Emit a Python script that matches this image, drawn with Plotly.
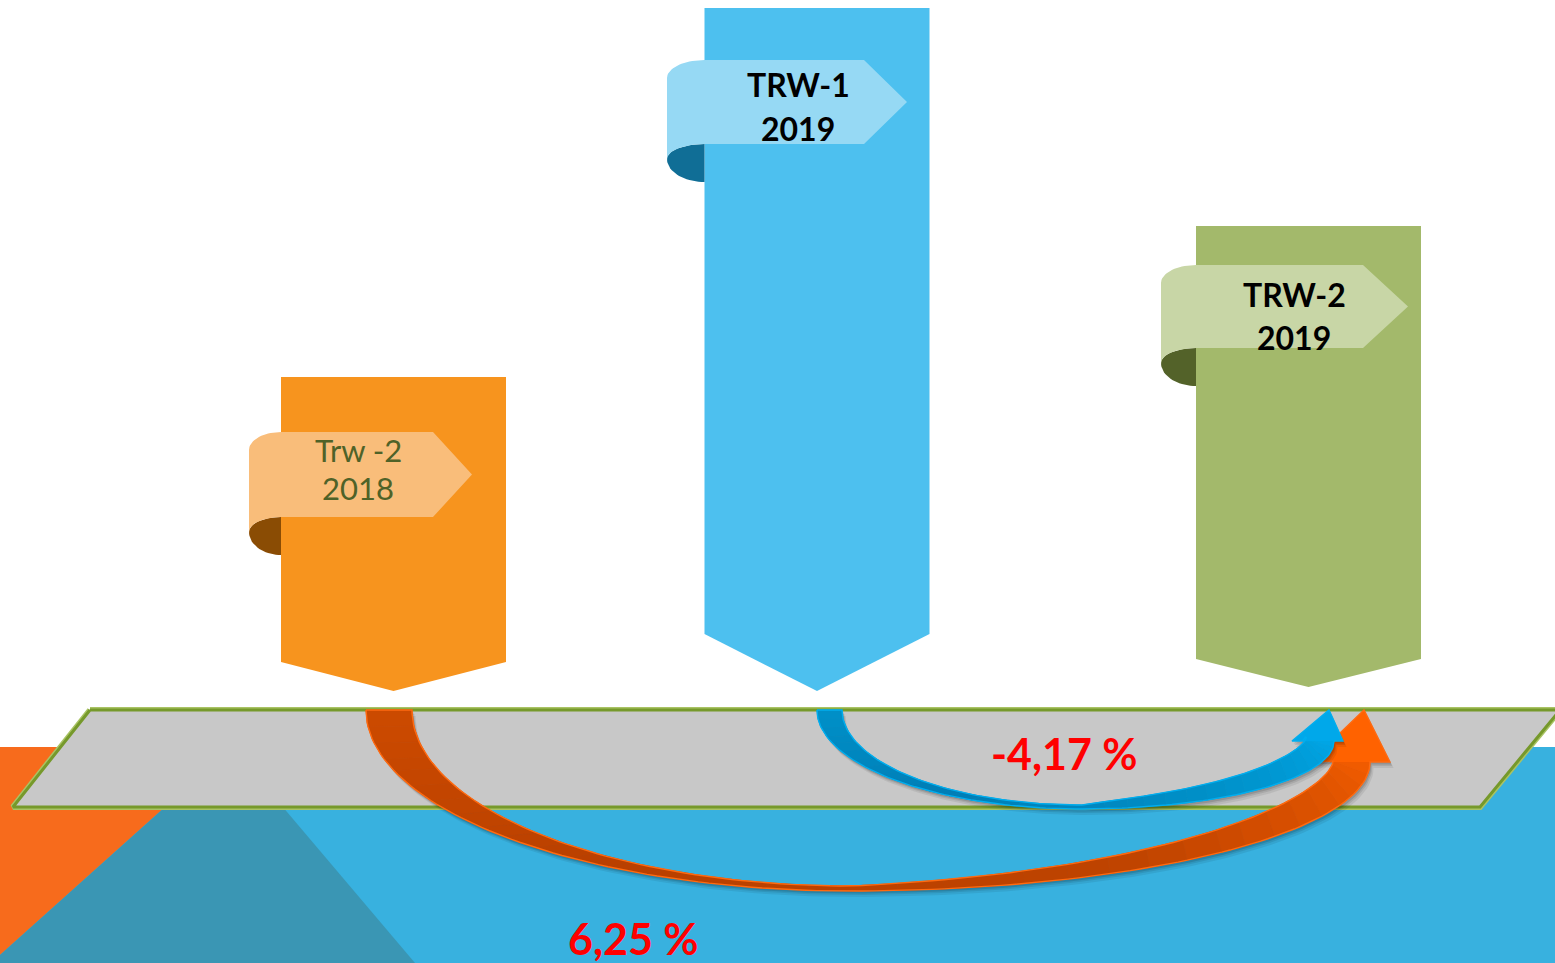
import numpy as np
import plotly.graph_objects as go

# ---------------- data ----------------
categories = ["Trw -2", "TRW-1", "TRW-2"]
years = ["2018", "2019", "2019"]
bar_values = [314, 683, 465]          # bar heights above the platform line (chart units)
changes = [6.25, -4.17]               # % change  (Trw-2 2018 -> TRW-2 2019), (TRW-1 2019 -> TRW-2 2019)

# ---------------- geometry / style ----------------
W, H = 1555, 963
BASE = 691
bar_x = [393.5, 817, 1308.5]
BAR_W = 225
notch = [29, 57, 28]
lift = [0, 0, 4]
bar_colors = ["#F7941E", "#4DC0EF", "#A3B96B"]

rib_top = [432, 60, 265]
rib_bot = [517, 144, 348]
rib_left = [249, 667, 1161]
rib_right = [433, 864, 1363]
rib_tip = [472, 907, 1408]
rib_light = ["#F9BD7A", "#96D9F4", "#C8D6A6"]
rib_dark = ["#8A4C04", "#106E96", "#536229"]

label_x = [358, 798, 1294]
label_y1 = [450, 84, 294]
label_y2 = [488, 128, 337]
label_color = ["#4F6228", "#000000", "#000000"]
label_bold = [False, True, True]

arrows = [
    dict(x0_out=366, x0_in=412, y_top=710, x_bot=850, y_bot_out=891, y_bot_in=886,
         x_end_out=1370, y_end=762, w_end=40, p=1.0,
         head_l=(1310, 762), head_r=(1390, 762), tip=(1364, 710),
         stops=["#CC4A00", "#B94000", "#BE4300", "#F25C00"], head="#FF6200",
         outline="#FF6A10"),
    dict(x0_out=817, x0_in=842, y_top=710, x_bot=1082, y_bot_out=809, y_bot_in=805,
         x_end_out=1334, y_end=741, w_end=31, p=0.75,
         head_l=(1292, 741), head_r=(1343, 741), tip=(1329, 710),
         stops=["#0090C8", "#007DB5", "#0090C8", "#00A6E6"], head="#00A8EA",
         outline="#00AEEF"),
]
pct_pos = [(633, 938), (1064, 753)]

fig = go.Figure()


def poly(xs, ys, fill, line=None, lw=0):
    fig.add_trace(go.Scatter(
        x=list(xs) + [xs[0]], y=list(ys) + [ys[0]], mode="lines", fill="toself",
        fillcolor=fill, line=dict(color=line or fill, width=lw),
        hoverinfo="skip", showlegend=False))


# ---------------- background ----------------
poly([0, W, W, 0], [747, 747, H, H], "#38B1DF")
poly([0, 232, 0], [747, 747, 955], "#F76B1C")
poly([232, 415, 0, 0], [747, H, H, 955], "#3A96B4")

# platform
plat_x = [90, W + 5, 1480, 13]
plat_y = [710, 710, 807, 807]
poly(plat_x, plat_y, "#C8C8C8", "#A9C364", 6)
poly(plat_x, plat_y, "#C8C8C8", "#76992B", 3)


# ---------------- curved arrows ----------------
def hex2rgb(h):
    h = h.lstrip("#")
    return np.array([int(h[i:i + 2], 16) for i in (0, 2, 4)], float)


def grad(stops, t):
    n = len(stops) - 1
    k = min(int(t * n), n - 1)
    f = t * n - k
    c = hex2rgb(stops[k]) * (1 - f) + hex2rgb(stops[k + 1]) * f
    return "rgb(%d,%d,%d)" % tuple(c.round())


def arrow_geom(a, n=70):
    cx, cy = a["x_bot"], a["y_top"]
    rxo, ryo = cx - a["x0_out"], a["y_bot_out"] - cy
    rxi, ryi = cx - a["x0_in"], a["y_bot_in"] - cy
    ph = np.linspace(0, np.pi / 2, n)
    lo = np.c_[cx - rxo * np.cos(ph), cy + ryo * np.sin(ph)]
    li = np.c_[cx - rxi * np.cos(ph), cy + ryi * np.sin(ph)]
    cy2 = a["y_end"]
    rx2, ry2 = a["x_end_out"] - cx, a["y_bot_out"] - cy2
    ph2 = np.linspace(0, np.pi / 2, n)[1:]
    ro = np.c_[cx + rx2 * np.sin(ph2), cy2 + ry2 * np.cos(ph2)]
    nx, ny = np.sin(ph2) / rx2, np.cos(ph2) / ry2
    nn = np.hypot(nx, ny)
    nx, ny = nx / nn, ny / nn
    wb = a["y_bot_out"] - a["y_bot_in"]
    w = wb + (a["w_end"] - wb) * (ph2 / (np.pi / 2)) ** a["p"]
    ri = np.c_[ro[:, 0] - w * nx, ro[:, 1] - w * ny]
    return np.vstack([lo, ro]), np.vstack([li, ri])


for a in arrows:
    outer, inner = arrow_geom(a)
    full_x = list(outer[:, 0]) + [a["head_r"][0], a["tip"][0], a["head_l"][0]] + list(inner[::-1, 0])
    full_y = list(outer[:, 1]) + [a["head_r"][1], a["tip"][1], a["head_l"][1]] + list(inner[::-1, 1])
    # soft shadow
    for off, al in [(6, 0.07), (4, 0.09), (2.5, 0.12)]:
        poly([x + off * 0.6 for x in full_x], [y + off for y in full_y], "rgba(0,0,0,%.2f)" % al)
    # gradient body
    m = len(outer)
    nseg = 36
    idx = np.linspace(0, m - 1, nseg + 1).round().astype(int)
    for s in range(nseg):
        i0, i1 = idx[s], idx[s + 1]
        xs = list(outer[i0:i1 + 1, 0]) + list(inner[i0:i1 + 1, 0][::-1])
        ys = list(outer[i0:i1 + 1, 1]) + list(inner[i0:i1 + 1, 1][::-1])
        c = grad(a["stops"], (s + 0.5) / nseg)
        poly(xs, ys, c, c, 0.8)
    # head
    poly([outer[-1, 0], a["head_r"][0], a["tip"][0], a["head_l"][0], inner[-1, 0]],
         [outer[-1, 1], a["head_r"][1], a["tip"][1], a["head_l"][1], inner[-1, 1]], a["head"])
    # outline
    fig.add_trace(go.Scatter(x=full_x + [full_x[0]], y=full_y + [full_y[0]], mode="lines",
                             line=dict(color=a["outline"], width=1.4),
                             hoverinfo="skip", showlegend=False))

# ---------------- bars ----------------
for i in range(len(categories)):
    l, r = bar_x[i] - BAR_W / 2, bar_x[i] + BAR_W / 2
    top = BASE - bar_values[i]
    tip_y = BASE - lift[i]
    side_y = tip_y - notch[i]
    poly([l, r, r, bar_x[i], l], [top, top, side_y, tip_y, side_y], bar_colors[i])

# ---------------- ribbons ----------------
for i in range(len(categories)):
    bl = bar_x[i] - BAR_W / 2
    t, b, rl = rib_top[i], rib_bot[i], rib_left[i]
    rx = bl - rl
    # dark curl
    th_u = np.linspace(np.pi / 2, np.pi, 20)
    th_d = np.linspace(np.pi, 3 * np.pi / 2, 20)
    cxu, cyu = bl, b + 15
    ux = list(cxu + rx * np.cos(th_u)); uy = list(cyu - 15 * np.sin(th_u))
    dx = list(cxu + rx * np.cos(th_d)); dy = list(cyu - 23 * np.sin(th_d))
    poly(ux + dx, uy + dy, rib_dark[i])
    # light ribbon
    th_t = np.linspace(np.pi / 2, np.pi, 20)
    tx = list(bl + rx * np.cos(th_t)); ty = list(t + 18 - 18 * np.sin(th_t))
    bx = list(cxu + rx * np.cos(th_u[::-1])); by = list(cyu - 15 * np.sin(th_u[::-1]))
    xs = [rib_tip[i], rib_right[i]] + tx + bx + [rib_right[i]]
    ys = [(t + b) / 2, t] + ty + by + [b]
    poly(xs, ys, rib_light[i])

# ---------------- text ----------------
ann = []
for i in range(len(categories)):
    for txt, yy in [(categories[i], label_y1[i]), (years[i], label_y2[i])]:
        ann.append(dict(x=label_x[i], y=yy, xref="x", yref="y", showarrow=False,
                        text=("<b>%s</b>" % txt) if label_bold[i] else txt,
                        font=dict(family="Lato", size=32 if label_bold[i] else 31,
                                  color=label_color[i]),
                        xanchor="center", yanchor="middle"))
for v, (px, py) in zip(changes, pct_pos):
    s = ("%.2f" % v).replace(".", ",") + " %"
    ann.append(dict(x=px, y=py, xref="x", yref="y", showarrow=False,
                    text="<b>%s</b>" % s,
                    font=dict(family="Lato", size=43, color="#FF0000"),
                    xanchor="center", yanchor="middle"))

fig.update_layout(
    width=W, height=H, margin=dict(l=0, r=0, t=0, b=0),
    paper_bgcolor="white", plot_bgcolor="white", showlegend=False,
    xaxis=dict(range=[0, W], visible=False, fixedrange=True),
    yaxis=dict(range=[H, 0], visible=False, fixedrange=True),
    annotations=ann,
)

fig.write_html("out.html", config=dict(displayModeBar=False, staticPlot=True),
               post_script="document.body.style.margin='0';document.body.style.overflow='hidden';")
